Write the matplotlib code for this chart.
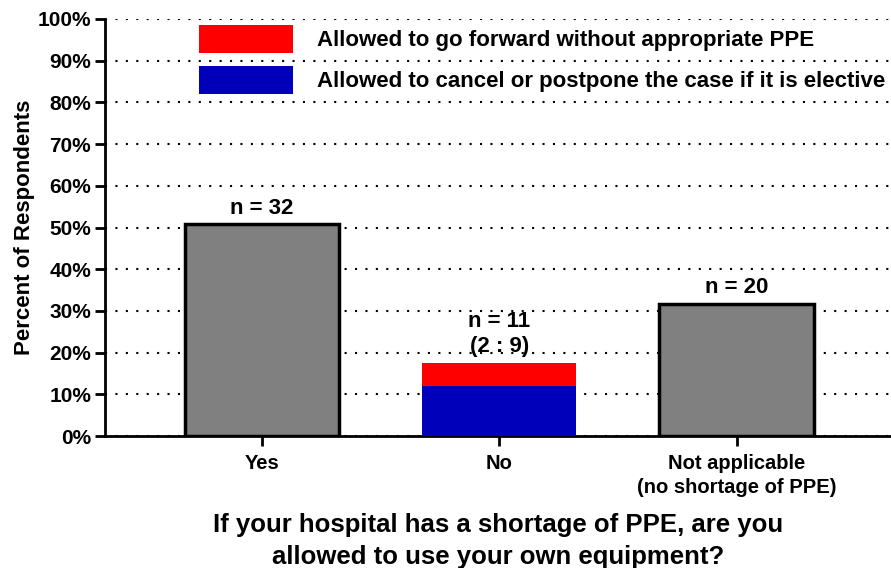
import numpy as np
import matplotlib
matplotlib.use("Agg")
import matplotlib.pyplot as plt

plt.rcParams.update({"font.family": ["Liberation Sans", "DejaVu Sans"], "font.weight": "bold"})

CATS = ["Yes", "No", "Not applicable\n(no shortage of PPE)"]
TOTAL = [50.8, 17.5, 31.7]
N_LABELS = ["n = 32", "n = 11\n(2 : 9)", "n = 20"]
NO_CANCEL = 12.0      # blue part of the "No" bar
NO_FORWARD = 5.5      # red part stacked on top
LEG = ["Allowed to go forward without appropriate PPE",
       "Allowed to cancel or postpone the case if it is elective"]

fig = plt.figure(figsize=(8.91, 5.68), dpi=100)
ax = fig.add_axes([105/891, 132/568, 786/891, 417/568])

x = np.arange(len(CATS))
w = 0.65
# gray bars for Yes / Not applicable
for i in (0, 2):
    ax.bar(x[i], TOTAL[i], width=w, color="#808080", edgecolor="black", linewidth=2.5, zorder=3)
b1 = ax.bar(x[1], NO_CANCEL, width=w, color="#0000bb", linewidth=0, zorder=3)
b2 = ax.bar(x[1], NO_FORWARD, bottom=NO_CANCEL, width=w, color="#ff0000", linewidth=0, zorder=3)

for xi, t, lab in zip(x, TOTAL, N_LABELS):
    ax.annotate(lab, (xi, t), xytext=(0, 4), textcoords="offset points", ha="center",
                va="bottom", fontsize=16, fontweight="bold", linespacing=1.3)

ax.set_xlim(-0.66, 2.65)
ax.set_ylim(0, 100)
ax.set_yticks(np.arange(0, 101, 10))
ax.set_yticklabels([f"{v}%" for v in range(0, 101, 10)], fontsize=15, fontweight="bold")
ax.set_xticks(x)
ax.set_xticklabels(CATS, fontsize=14.5, fontweight="bold", linespacing=1.3)
ax.tick_params(axis="both", length=7, width=2, direction="out")
ax.tick_params(axis="x", pad=6)
ax.tick_params(axis="y", pad=3)
for s in ("top", "right"):
    ax.spines[s].set_visible(False)
for s in ("left", "bottom"):
    ax.spines[s].set_linewidth(2)
ax.yaxis.grid(True, linestyle=(0, (1, 4)), color="black", linewidth=1.5)
ax.set_axisbelow(True)

ax.set_ylabel("Percent of Respondents", fontsize=16, fontweight="bold", labelpad=2)
ax.set_xlabel("If your hospital has a shortage of PPE, are you\nallowed to use your own equipment?",
              fontsize=18.5, fontweight="bold", labelpad=12, linespacing=1.4)

ax.legend([b2, b1], LEG, loc="upper left", bbox_to_anchor=(0.106, 1.012), frameon=False,
          borderpad=0, handlelength=4.23, handleheight=1.53, handletextpad=1.08,
          labelspacing=0.6, prop={"weight": "bold", "size": 16})

fig.savefig("out.png", dpi=100)
